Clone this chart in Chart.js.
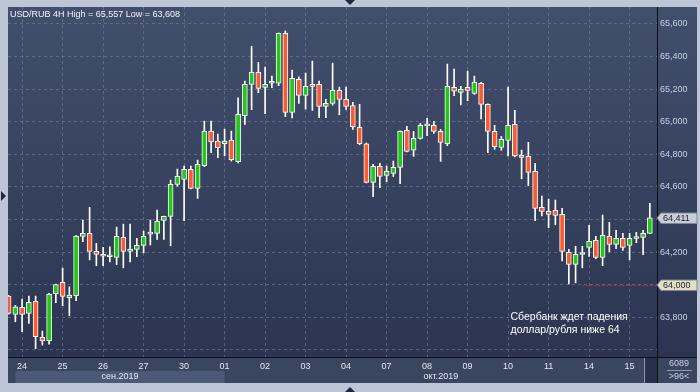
<!DOCTYPE html>
<html>
<head>
<meta charset="utf-8">
<script src="https://cdn.jsdelivr.net/npm/chart.js@4.4.1/dist/chart.umd.min.js"></script>
<style>
  html, body { margin: 0; padding: 0; background: #bcc6d6; }
  #wrap { width: 700px; height: 392px; }
</style>
</head>
<body>
<div id="wrap"><canvas id="chart" width="700" height="392"></canvas></div>
<script>
// USD/RUB 4H, one entry per candle (96 bars)
const opens = [63.931,63.818,63.861,63.825,63.898,63.677,63.656,63.945,64.015,63.921,
  63.933,64.297,64.315,64.205,64.187,64.172,64.168,64.291,64.205,64.217,
  64.242,64.311,64.315,64.395,64.420,64.616,64.647,64.708,64.591,64.730,
  64.943,64.882,64.865,64.888,64.755,65.037,65.229,65.303,65.211,65.236,
  65.236,65.543,65.058,65.260,65.162,65.229,65.229,65.094,65.113,65.193,
  65.137,65.100,64.966,64.865,64.628,64.726,64.671,64.683,64.720,64.947,
  64.825,64.898,64.975,64.978,64.941,64.865,65.211,65.180,65.211,65.174,
  65.236,65.107,64.941,64.843,64.886,64.984,64.794,64.788,64.696,64.475,
  64.450,64.456,64.432,64.199,64.125,64.186,64.229,64.272,64.168,64.297,
  64.248,64.285,64.242,64.284,64.291,64.315];
const highs = [63.935,63.874,63.912,63.931,63.931,63.716,63.947,64.005,64.102,63.988,
  64.302,64.397,64.475,64.254,64.229,64.233,64.354,64.372,64.372,64.285,
  64.329,64.397,64.458,64.422,64.642,64.710,64.728,64.728,64.765,65.004,
  65.004,64.925,64.955,64.943,65.147,65.250,65.463,65.364,65.336,65.280,
  65.545,65.557,65.317,65.276,65.299,65.372,65.250,65.137,65.360,65.213,
  65.213,65.119,65.107,64.870,64.739,64.745,64.728,64.759,64.945,64.972,
  64.941,64.990,65.021,65.002,64.953,65.354,65.323,65.217,65.311,65.280,
  65.242,65.110,64.978,64.910,65.213,65.070,64.826,64.874,64.745,64.544,
  64.526,64.520,64.469,64.217,64.236,64.236,64.364,64.297,64.428,64.383,
  64.334,64.315,64.315,64.322,64.334,64.499];
const lows = [63.820,63.773,63.712,63.763,63.608,63.630,63.636,63.890,63.871,63.810,
  63.902,64.264,64.153,64.117,64.117,64.141,64.123,64.104,64.141,64.172,
  64.196,64.244,64.279,64.279,64.239,64.605,64.393,64.588,64.530,64.725,
  64.810,64.779,64.791,64.759,64.748,64.984,65.074,65.178,65.049,65.209,
  65.221,65.031,65.023,65.113,65.078,65.070,65.025,65.025,65.102,65.043,
  65.076,64.953,64.859,64.625,64.540,64.595,64.632,64.663,64.620,64.815,
  64.788,64.893,64.914,64.929,64.757,64.853,65.160,65.104,65.129,65.168,
  65.018,64.810,64.831,64.825,64.791,64.785,64.650,64.607,64.393,64.423,
  64.350,64.368,64.147,64.006,64.012,64.104,64.174,64.160,64.117,64.202,
  64.221,64.211,64.153,64.258,64.184,64.313];
const closes = [63.825,63.865,63.818,63.892,63.681,63.656,63.943,64.002,63.929,63.937,
  64.299,64.315,64.205,64.187,64.175,64.176,64.297,64.205,64.219,64.242,
  64.297,64.312,64.391,64.420,64.616,64.665,64.708,64.591,64.739,64.943,
  64.877,64.841,64.882,64.767,65.045,65.229,65.303,65.205,65.229,65.238,
  65.543,65.058,65.266,65.162,65.217,65.217,65.094,65.113,65.193,65.137,
  65.094,64.969,64.865,64.628,64.726,64.665,64.696,64.720,64.941,64.818,
  64.898,64.978,64.977,64.941,64.874,65.217,65.187,65.199,65.193,65.242,
  65.107,64.941,64.847,64.892,64.978,64.791,64.782,64.690,64.469,64.450,
  64.432,64.426,64.205,64.125,64.187,64.188,64.266,64.168,64.303,64.248,
  64.285,64.229,64.285,64.286,64.315,64.411];

// x axis: one label per trading day, 6 bars a day, first label on bar 2
const dayLabels = ['24','25','26','27','30','01','02','03','04','07','08','09','10','11','14','15'];
const firstDayBar = 2;
const barsPerDay = 6;
const monthLabels = ['сен.2019', 'окт.2019'];
const monthStartBar = [1, 32];

// y axis
const yTicks = [63.6, 63.8, 64.0, 64.2, 64.4, 64.6, 64.8, 65.0, 65.2, 65.4, 65.6];
const yTickText = ['', '63,800', '64,000', '64,200', '', '64,600', '64,800', '65,000', '65,200', '65,400', '65,600'];

const titleText = 'USD/RUB 4H High = 65,557 Low = 63,608';
const noteLines = ['Сбербанк ждет падения', 'доллар/рубля ниже 64'];
const levelValue = 64.0;
const levelText = '64,000';
const levelFromBar = 85;
const lastText = '64,411';
const volumeText = '6089';
const barsText = '>96<';

const FONT = "'Liberation Sans', Arial, sans-serif";
const gridColor = 'rgba(125,140,170,0.5)';

const bars = closes.map((c, i) => i);
const wickData = bars.map(i => ({ x: i, y: [lows[i], highs[i]] }));
const bodyData = bars.map(i => ({ x: i, y: [Math.min(opens[i], closes[i]), Math.max(opens[i], closes[i])] }));
const bodyColors = bars.map(i => closes[i] >= opens[i] ? '#22c814' : '#ff5a2e');

function marker(ctx, y, text, fill) {
  ctx.beginPath();
  ctx.moveTo(657, y);
  ctx.lineTo(661, y - 5);
  ctx.lineTo(697, y - 5);
  ctx.lineTo(697, y + 5.5);
  ctx.lineTo(661, y + 5.5);
  ctx.closePath();
  ctx.fillStyle = fill;
  ctx.fill();
  ctx.strokeStyle = '#7d8698';
  ctx.lineWidth = 1;
  ctx.stroke();
  ctx.fillStyle = '#1b2235';
  ctx.font = '9px ' + FONT;
  ctx.textAlign = 'left';
  ctx.textBaseline = 'middle';
  ctx.fillText(text, 663, y + 0.5);
}

const framePlugin = {
  id: 'frame',
  beforeDraw(chart) {
    const { ctx, chartArea: a, scales: { x } } = chart;
    ctx.save();
    ctx.fillStyle = '#bcc6d6';
    ctx.fillRect(0, 0, 700, 392);
    const g = ctx.createLinearGradient(0, a.top, 0, a.bottom);
    g.addColorStop(0, '#424f6c');
    g.addColorStop(1, '#2b3551');
    ctx.fillStyle = g;
    ctx.fillRect(a.left, a.top, 697 - a.left, a.bottom - a.top);
    ctx.fillStyle = '#3a4560';
    ctx.fillRect(a.left, a.bottom, 697 - a.left, 383 - a.bottom);
    // month band (september shaded)
    const sx0 = x.getPixelForValue(monthStartBar[0]);
    const sx1 = x.getPixelForValue(monthStartBar[1]);
    ctx.fillStyle = '#4b5876';
    ctx.fillRect(sx0, 371, sx1 - sx0, 12);
    // shift area
    ctx.fillStyle = '#27314b';
    ctx.fillRect(645, a.bottom + 1, 12, 383 - a.bottom - 1);
    ctx.fillStyle = '#8c97ab';
    ctx.fillRect(644, a.bottom + 1, 1, 383 - a.bottom - 1);
    ctx.restore();
  },
  afterDraw(chart) {
    const { ctx, chartArea: a, scales: { x, y } } = chart;
    ctx.save();
    // month labels
    ctx.font = '9px ' + FONT;
    ctx.fillStyle = '#e4e9f2';
    ctx.textAlign = 'center';
    ctx.textBaseline = 'middle';
    monthLabels.forEach((m, k) => {
      const x0 = x.getPixelForValue(monthStartBar[k]);
      const x1 = k + 1 < monthStartBar.length ? x.getPixelForValue(monthStartBar[k + 1]) : a.right;
      ctx.fillText(m, (x0 + x1) / 2, 377);
    });
    // axis lines carried into the corner
    ctx.fillStyle = '#0b0e17';
    ctx.fillRect(a.right, a.bottom, 697 - a.right, 1);
    ctx.fillRect(a.right, a.bottom, 1, 383 - a.bottom);
    // corner texts
    ctx.fillStyle = '#c7d1e4';
    ctx.fillText(volumeText, 679, 364);
    ctx.fillText(barsText, 679, 377);
    ctx.fillStyle = '#8f9ab0';
    ctx.fillRect(667, 370, 25, 1);
    // support level
    const ly = Math.round(y.getPixelForValue(levelValue)) + 0.5;
    ctx.strokeStyle = '#d8262a';
    ctx.lineWidth = 1;
    ctx.setLineDash([2, 2]);
    ctx.beginPath();
    ctx.moveTo(x.getPixelForValue(levelFromBar), ly);
    ctx.lineTo(a.right, ly);
    ctx.stroke();
    ctx.setLineDash([]);
    // price markers
    marker(ctx, Math.round(y.getPixelForValue(closes[closes.length - 1])), lastText, '#c9ced6');
    marker(ctx, Math.round(y.getPixelForValue(levelValue)), levelText, '#e3dfc3');
    // title
    ctx.font = '9px ' + FONT;
    ctx.fillStyle = '#f2f4f8';
    ctx.textAlign = 'left';
    ctx.textBaseline = 'middle';
    ctx.fillText(titleText, 10, 15);
    // note
    ctx.font = '10.5px ' + FONT;
    ctx.fillStyle = '#ffffff';
    noteLines.forEach((t, k) => ctx.fillText(t, 510.5, 317 + k * 12.8));
    // small frame arrows
    ctx.fillStyle = '#1e2740';
    ctx.beginPath(); ctx.moveTo(345, 0); ctx.lineTo(355, 0); ctx.lineTo(350, 5); ctx.fill();
    ctx.beginPath(); ctx.moveTo(345, 392); ctx.lineTo(355, 392); ctx.lineTo(350, 387); ctx.fill();
    ctx.beginPath(); ctx.moveTo(1, 191); ctx.lineTo(1, 201); ctx.lineTo(6, 196); ctx.fill();
    ctx.restore();
  }
};

new Chart(document.getElementById('chart'), {
  type: 'bar',
  data: {
    datasets: [
      { data: wickData, backgroundColor: '#ffffff', barThickness: 1, grouped: false, order: 2, clip: 0 },
      { data: bodyData, backgroundColor: bodyColors, borderColor: '#ffffff', borderWidth: 1,
        borderSkipped: false, barThickness: 5, minBarLength: 2, grouped: false, order: 1, clip: 0 }
    ]
  },
  options: {
    responsive: false,
    animation: false,
    devicePixelRatio: 1,
    layout: { padding: { left: 8, top: 7, right: 3, bottom: 9 } },
    plugins: { legend: { display: false }, tooltip: { enabled: false } },
    scales: {
      x: {
        type: 'linear',
        offset: false,
        min: -0.09,
        max: 96.06,
        afterBuildTicks: s => { s.ticks = dayLabels.map((d, k) => ({ value: firstDayBar + k * barsPerDay })); },
        afterFit: s => { s.height = 26; s.paddingLeft = 0; s.paddingRight = 0; },
        grid: { color: gridColor, drawTicks: false, offset: false },
        border: { display: true, color: '#0b0e17', width: 1, dash: [3, 3] },
        ticks: {
          autoSkip: false, maxRotation: 0, padding: 4, color: '#e4e9f2',
          font: { family: FONT, size: 9 },
          callback: (v, k) => dayLabels[k]
        }
      },
      y: {
        position: 'right',
        min: 63.557,
        max: 65.704,
        afterBuildTicks: s => { s.ticks = yTicks.map(v => ({ value: v })); },
        afterFit: s => { s.width = 40; s.paddingTop = 0; s.paddingBottom = 0; },
        grid: { color: gridColor, drawTicks: false },
        border: { display: true, color: '#0b0e17', width: 1, dash: [3, 3] },
        ticks: {
          padding: 3, color: '#c7d1e4',
          font: { family: FONT, size: 9 },
          callback: (v, k) => yTickText[k]
        }
      }
    }
  },
  plugins: [framePlugin]
});
</script>
</body>
</html>
